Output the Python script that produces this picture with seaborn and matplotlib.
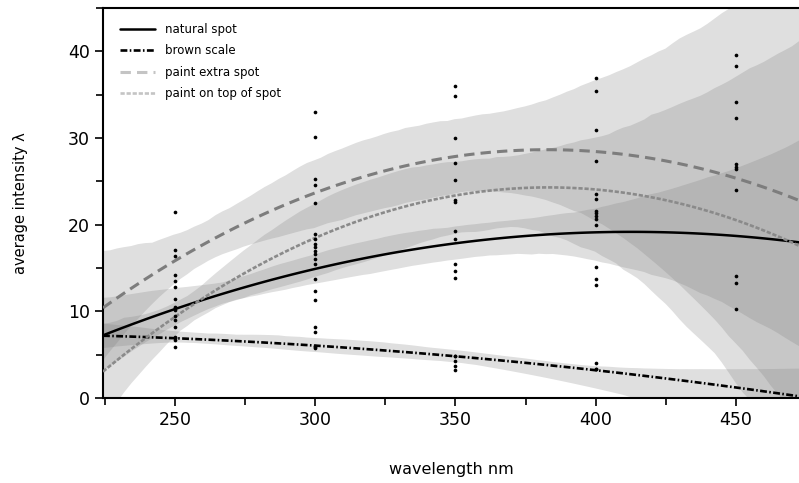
import numpy as np
import pandas as pd
import seaborn as sns
import matplotlib.pyplot as plt
from matplotlib.ticker import MultipleLocator
from matplotlib.lines import Line2D

# intensity readings per wavelength (nm) for each treatment
natural_spot = {250: [11.4, 10.4, 9.0],
                300: [17.0, 16.0, 15.5, 13.7, 12.3],
                350: [22.9, 18.3, 15.5, 14.7],
                400: [23.0, 21.6, 21.3, 20.7, 15.1, 13.0]}
brown_scale = {250: [7.0, 6.9, 6.7, 5.9],
               300: [8.2, 7.6, 6.0, 5.9, 5.8],
               350: [4.8, 4.8, 4.3, 3.7, 3.2],
               400: [4.0, 3.4, 3.3]}
paint_extra = {250: [21.5, 17.1, 16.4, 14.2, 13.5, 12.8],
               300: [33.0, 30.1, 25.3, 22.5, 18.3, 17.8, 17.4],
               350: [36.0, 34.9, 22.6, 19.3],
               400: [36.9, 35.4, 21.0, 20.0]}
paint_top = {250: [10.5, 10.1, 9.5, 8.2],
             300: [24.6, 18.9, 16.6, 11.3],
             350: [30.0, 27.1, 25.1, 13.8],
             400: [30.9, 27.3, 23.5, 13.7]}
# points measured at 450 nm
extra_450 = [39.6, 38.3, 34.1, 32.3, 27.0, 26.7, 26.4, 24.0, 14.1, 13.3, 10.3]

labels = ["natural spot", "brown scale", "paint extra spot", "paint on top of spot"]
groups = [natural_spot, brown_scale, paint_extra, paint_top]


def to_frame(d, name):
    rows = [(wl, v, name) for wl, vals in d.items() for v in vals]
    return pd.DataFrame(rows, columns=["wavelength", "intensity", "group"])


df = pd.concat([to_frame(g, n) for g, n in zip(groups, labels)], ignore_index=True)
df_450 = pd.DataFrame({"wavelength": 450, "intensity": extra_450})

sns.set_style("ticks")
plt.rcParams["font.family"] = ["DejaVu Sans"]

fig = plt.figure(figsize=(7.99, 4.83), dpi=100)
ax = fig.add_axes([103 / 799, 85 / 483, 696 / 799, 390 / 483])
ax.set_xlim(224.3, 472.5)
ax.set_ylim(0, 45)

styles = {
    "natural spot": dict(color="black", lw=1.8, linestyle="-"),
    "brown scale": dict(color="black", lw=1.9, linestyle=(0, (2.6, 0.9, 0.6, 0.9))),
    "paint extra spot": dict(color="#7d7d7d", lw=2.2, linestyle=(0, (3.4, 2.0))),
    "paint on top of spot": dict(color="#8a8a8a", lw=1.9, linestyle=(0, (1.6, 0.7))),
}

for name in labels:
    sub = df[df["group"] == name]
    n_before = len(ax.collections)
    sns.regplot(data=sub, x="wavelength", y="intensity", order=2, ci=95,
                n_boot=1000, seed=3, truncate=False, scatter=False, ax=ax,
                color=styles[name]["color"],
                line_kws=dict(lw=styles[name]["lw"], linestyle=styles[name]["linestyle"], zorder=3))
    for coll in ax.collections[n_before:]:
        coll.set_facecolor("#808080")
        coll.set_alpha(0.25)
        coll.set_edgecolor("none")
        coll.set_zorder(1)

# all measured points
sns.scatterplot(data=df, x="wavelength", y="intensity", color="black", s=7,
                linewidth=0, ax=ax, zorder=4, legend=False)
sns.scatterplot(data=df_450, x="wavelength", y="intensity", color="black", s=7,
                linewidth=0, ax=ax, zorder=4, legend=False)

ax.set_xlim(224.3, 472.5)
ax.set_ylim(0, 45)
ax.set_xticks([250, 300, 350, 400, 450])
ax.set_yticks([0, 10, 20, 30, 40])
ax.xaxis.set_minor_locator(MultipleLocator(25))
ax.yaxis.set_minor_locator(MultipleLocator(5))
ax.tick_params(axis="both", which="major", direction="out", length=6, width=1.2,
               labelsize=12.5, color="black", labelcolor="black")
ax.tick_params(axis="both", which="minor", direction="out", length=5, width=1.2,
               color="black")
for side in ["left", "bottom", "top"]:
    ax.spines[side].set_visible(True)
    ax.spines[side].set_linewidth(1.5)
    ax.spines[side].set_color("black")
ax.spines["right"].set_visible(False)

ax.set_xlabel("wavelength nm", fontsize=11.5, color="black")
ax.set_ylabel("average intensity λ", fontsize=10.5, color="black")
ax.xaxis.set_label_coords(0.5, -0.165)
ax.yaxis.set_label_coords(-0.108, 0.5)

legend_colors = ["black", "black", "#c4c4c4", "#c4c4c4"]
handles = [Line2D([], [], color=c, lw=styles[n]["lw"], linestyle=styles[n]["linestyle"])
           for n, c in zip(labels, legend_colors)]
ax.legend(handles, labels, loc="upper left", bbox_to_anchor=(0.017, 0.974),
          frameon=False, fontsize=8.5, handlelength=3.0, handletextpad=0.85,
          labelspacing=0.72, borderaxespad=0, labelcolor="black")

fig.savefig("out.png", dpi=100)
